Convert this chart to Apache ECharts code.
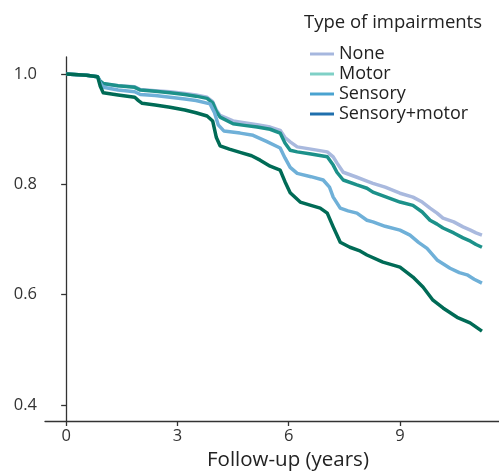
<!DOCTYPE html>
<html>
<head>
<meta charset="utf-8">
<script src="https://cdn.jsdelivr.net/npm/echarts@6/dist/echarts.min.js"></script>
<style>html,body{margin:0;padding:0;background:#fff}#c{width:499px;height:474px}</style>
</head>
<body>
<div id="c"></div>
<script>
const seriesNames = ['None', 'Motor', 'Sensory', 'Sensory+motor'];
const xTicks = [0, 3, 6, 9];
const yTicks = [0.4, 0.6, 0.8, 1.0];

const noneData = [[0,1.0],[0.55,0.998],[0.85,0.995],[0.92,0.987],[1.0,0.982],[1.05,0.980],[1.4,0.979],[1.85,0.977],[2.0,0.972],[2.4,0.970],[2.8,0.968],[3.2,0.965],[3.5,0.962],[3.8,0.958],[3.95,0.950],[4.05,0.935],[4.15,0.925],[4.5,0.915],[4.8,0.912],[5.15,0.908],[5.5,0.904],[5.77,0.898],[5.9,0.885],[6.04,0.877],[6.23,0.868],[6.6,0.864],[7.04,0.859],[7.2,0.850],[7.3,0.839],[7.47,0.822],[7.84,0.813],[8.11,0.806],[8.27,0.802],[8.6,0.795],[9.0,0.784],[9.35,0.777],[9.6,0.768],[9.81,0.757],[10.0,0.748],[10.16,0.739],[10.45,0.732],[10.70,0.723],[10.9,0.717],[11.05,0.712],[11.21,0.708]];
const motorData = [[0,1.0],[0.55,0.998],[0.85,0.995],[0.92,0.987],[1.0,0.983],[1.05,0.981],[1.4,0.979],[1.85,0.976],[2.0,0.971],[2.4,0.969],[2.8,0.966],[3.2,0.963],[3.5,0.960],[3.8,0.956],[3.95,0.948],[4.05,0.932],[4.15,0.922],[4.5,0.910],[4.8,0.907],[5.15,0.904],[5.5,0.900],[5.77,0.893],[5.9,0.875],[6.04,0.862],[6.23,0.859],[6.6,0.855],[7.04,0.850],[7.2,0.835],[7.3,0.822],[7.47,0.808],[7.84,0.799],[8.11,0.793],[8.27,0.786],[8.6,0.778],[9.0,0.768],[9.35,0.762],[9.6,0.750],[9.81,0.735],[10.0,0.728],[10.16,0.721],[10.45,0.712],[10.70,0.703],[10.9,0.697],[11.05,0.691],[11.21,0.686]];
const sensoryData = [[0,1.0],[0.55,0.998],[0.85,0.995],[0.92,0.984],[1.0,0.976],[1.05,0.973],[1.4,0.971],[1.85,0.968],[2.0,0.963],[2.4,0.961],[2.8,0.958],[3.2,0.955],[3.5,0.952],[3.88,0.946],[4.0,0.930],[4.1,0.908],[4.25,0.897],[4.69,0.893],[5.04,0.889],[5.4,0.878],[5.77,0.866],[5.9,0.848],[6.04,0.831],[6.23,0.820],[6.6,0.814],[6.93,0.808],[7.1,0.795],[7.2,0.777],[7.39,0.757],[7.6,0.752],[7.84,0.748],[8.11,0.735],[8.27,0.732],[8.6,0.724],[9.0,0.717],[9.27,0.708],[9.5,0.695],[9.73,0.684],[10.0,0.663],[10.35,0.648],[10.6,0.640],[10.81,0.636],[11.0,0.628],[11.21,0.621]];
const sensoryMotorData = [[0,1.0],[0.55,0.998],[0.85,0.995],[0.92,0.978],[1.0,0.966],[1.05,0.965],[1.4,0.962],[1.85,0.958],[1.95,0.952],[2.05,0.947],[2.4,0.944],[2.8,0.940],[3.2,0.935],[3.5,0.930],[3.8,0.924],[3.95,0.915],[4.05,0.885],[4.15,0.870],[4.4,0.864],[4.69,0.858],[5.0,0.852],[5.23,0.844],[5.5,0.833],[5.77,0.826],[5.9,0.805],[6.04,0.785],[6.31,0.768],[6.6,0.762],[6.85,0.757],[7.04,0.748],[7.2,0.723],[7.39,0.695],[7.65,0.686],[7.9,0.680],[8.11,0.672],[8.54,0.659],[9.0,0.650],[9.35,0.632],[9.62,0.614],[9.89,0.590],[10.16,0.576],[10.54,0.559],[10.89,0.549],[11.21,0.534]];

const allData = [noneData, motorData, sensoryData, sensoryMotorData];
const lineColors = ['#a9b9de', '#1c918a', '#6fb0d8', '#006b56'];
const legendColors = ['#a6b7de', '#7fd0c6', '#4aa3d0', '#1f6fad'];

const chart = echarts.init(document.getElementById('c'));
const font = 'Open Sans';
chart.setOption({
  animation: false,
  textStyle: {fontFamily: font},
  grid: {left: 45, right: 0, top: 57, bottom: 53},
  xAxis: {
    type: 'value', min: -0.57, max: 11.67,
    splitLine: {show: false},
    axisLine: {lineStyle: {color: '#333', width: 1.3}},
    axisTick: {customValues: xTicks, length: 5, lineStyle: {color: '#333', width: 1.3}},
    axisLabel: {customValues: xTicks, color: '#333', fontSize: 16.5, margin: 7, fontFamily: font}
  },
  yAxis: {
    type: 'value', min: 0.371, max: 1.031,
    splitLine: {show: false},
    axisLine: {show: true, lineStyle: {color: '#333', width: 1.3}},
    axisTick: {show: true, customValues: yTicks, length: 5, lineStyle: {color: '#333', width: 1.3}},
    axisLabel: {customValues: yTicks, color: '#333', fontSize: 16.5, margin: 8, fontFamily: font,
      formatter: v => v.toFixed(1)}
  },
  legend: {
    orient: 'vertical', left: 305, top: 39,
    itemWidth: 24, itemHeight: 3, itemGap: 0,
    icon: 'rect',
    textStyle: {fontSize: 18, color: '#222', lineHeight: 20, fontFamily: font},
    data: seriesNames.map((n, i) => ({name: n, itemStyle: {color: legendColors[i]}}))
  },
  graphic: [
    {type: 'text', left: 304, top: 13, style: {text: 'Type of impairments', fontSize: 18.5, fill: '#222', fontFamily: font}},
    {type: 'text', left: 207, top: 450, style: {text: 'Follow-up (years)', fontSize: 20.5, fill: '#222', fontFamily: font}}
  ],
  series: seriesNames.map((n, i) => ({
    name: n, type: 'line', showSymbol: false,
    data: allData[i],
    itemStyle: {color: lineColors[i]},
    lineStyle: {color: lineColors[i], width: 3.5, join: 'round'}
  }))
});
</script>
</body>
</html>
